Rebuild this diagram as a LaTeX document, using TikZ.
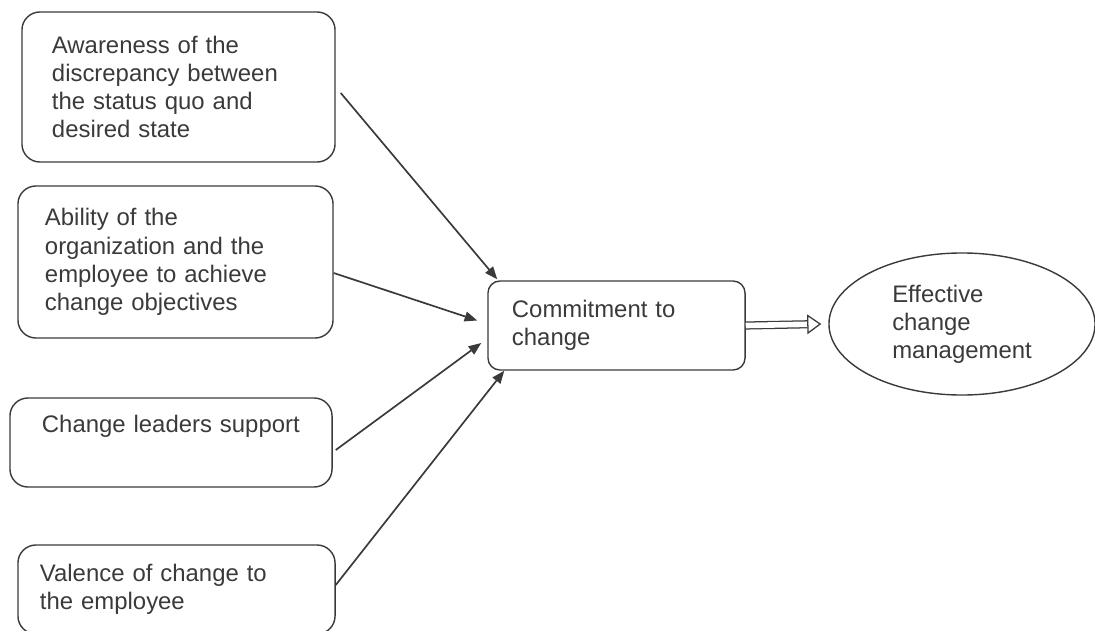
\documentclass[tikz,border=0pt]{standalone}
\usepackage{fontspec}
\setmainfont{Liberation Sans}
\usetikzlibrary{shapes.geometric,arrows.meta,calc}
\definecolor{ink}{HTML}{3A3A3A}

\begin{document}
\begin{tikzpicture}[x=0.025cm, y=-0.025cm, font=\fontsize{17}{20}\selectfont,
    box/.style = {draw=ink, text=ink, line width=1pt, rounded corners=0.45cm, align=left, inner xsep=0.6cm, inner ysep=0pt},
    goal/.style = {draw=ink, text=ink, line width=1pt, ellipse, align=left, inner sep=0pt, minimum width=6.65cm, minimum height=3.55cm},
    link/.style = {draw=ink, line width=1.2pt, -{Triangle[length=9pt,width=7pt]}}]
      \clip (0,0) rectangle (1095,630);
      \node[box, inner xsep=0.75cm, text width=6.325cm, minimum height=3.75cm] (aware) at (178.5,87) {Awareness of the\\discrepancy between\\the status quo and\\desired state};
      \node[box, inner xsep=0.675cm, text width=6.525cm, minimum height=3.8cm] (ability) at (175.5,262) {Ability of the\\organization and the\\employee to achieve\\change objectives};
      \node[box, inner xsep=0.8cm, text width=6.45cm, minimum height=2.225cm] (leaders) at (171,442.5) {Change leaders support\\\strut};
      \node[box, inner xsep=0.55cm, text width=6.825cm, minimum height=2.225cm] (valence) at (176.5,589.5) {Valence of change to\\the employee};
      \node[box, text width=5.225cm, minimum height=2.225cm, rounded corners=0.3cm] (commit) at (616.5,325.5) {Commitment to\\change};
      \node[goal] (effect) at (962,324) {Effective\\change\\management};
      \draw[link] ($(aware.east)+(5,6)$) -- ($(commit.north west)+(10,-1)$);
      \draw[link] ($(ability.east)+(0,11)$) -- ($(commit.west)+(-10,-5)$);
      \draw[link] ($(leaders.east)+(3,7.5)$) -- ($(commit.west)+(-6,17.5)$);
      \draw[link] ($(valence.east)+(0,-4.5)$) -- ($(commit.south west)+(17,0)$);
      \draw[draw=ink, double, double distance=4pt, line width=0.9pt, -{Triangle[open,length=10pt,width=14pt]}] (commit.east) -- ($(effect.west)+(-7,0)$);
    \end{tikzpicture}
\end{document}
